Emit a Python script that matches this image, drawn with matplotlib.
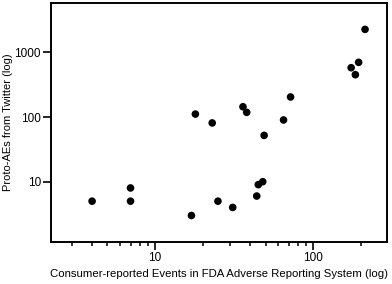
import matplotlib
matplotlib.use('Agg')
import matplotlib.pyplot as plt
from matplotlib.ticker import LogLocator, NullLocator, FixedLocator, NullFormatter

plt.rcParams['font.family'] = ['Liberation Sans', 'DejaVu Sans']

# consumer-reported FAERS events vs proto-AEs from Twitter
faers = [4, 7, 7, 17, 18, 23, 25, 31, 36, 38, 44, 45, 48, 49, 65, 72, 174, 185, 194, 213]
twitter = [5, 8, 5, 3, 111, 81, 5, 4, 144, 118, 6, 9, 10, 52, 90, 204, 578, 451, 700, 2265]

fig = plt.figure(figsize=(3.92, 2.84), dpi=100)
ax = fig.add_axes([0.131, 0.148, 0.8555, 0.8425])

ax.scatter(faers, twitter, s=30, color='black', edgecolors='none', zorder=3)

ax.set_xscale('log')
ax.set_yscale('log')
ax.set_xlim(2.21, 292)
ax.set_ylim(1.17, 5850)

ax.xaxis.set_major_locator(FixedLocator([10, 100]))
ax.xaxis.set_minor_locator(LogLocator(base=10, subs=range(2, 10)))
ax.xaxis.set_minor_formatter(NullFormatter())
ax.set_xticklabels(['10', '100'])
ax.yaxis.set_major_locator(FixedLocator([10, 100, 1000]))
ax.yaxis.set_minor_locator(NullLocator())
ax.set_yticklabels(['10', '100', '1000'])

for sp in ax.spines.values():
    sp.set_linewidth(1.4)

ax.tick_params(which='major', direction='out', length=5.5, width=1.2, labelsize=8.5, pad=2)
ax.tick_params(which='minor', direction='out', length=3, width=1.1)

ax.set_xlabel('Consumer-reported Events in FDA Adverse Reporting System (log)', fontsize=8.2, labelpad=3)
ax.set_ylabel('Proto-AEs from Twitter (log)', fontsize=8.0, labelpad=1)

fig.savefig('out.png', dpi=100)
